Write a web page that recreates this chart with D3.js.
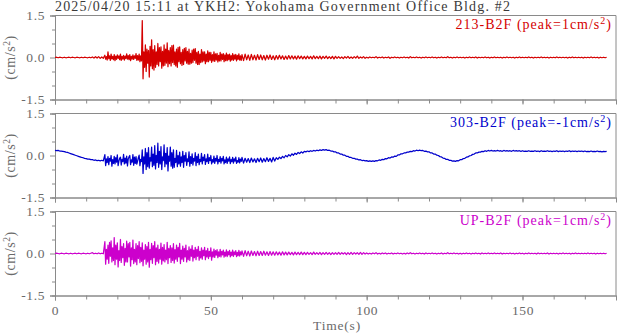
<!DOCTYPE html>
<html>
<head>
<meta charset="utf-8">
<script src="https://cdn.jsdelivr.net/npm/d3@7"></script>
<style>
  html, body { margin: 0; padding: 0; background: #fff; }
  svg { display: block; }
  text { font-family: "Liberation Serif", "Times New Roman", serif; }
</style>
</head>
<body>
<svg id="chart" width="618" height="334"></svg>
<script>
// ---------------- DATA ----------------
const title = "2025/04/20 15:11 at YKH2: Yokohama Government Office Bldg. #2";
const timeDomain = [0, 180];
const xTickLabels = [0, 50, 100, 150];
const xTickStep = 10;
const yMajorTicks = [-1.5, 0, 1.5];
const yMinorTicks = [-1, -0.5, 0.5, 1];
const channelNames = ["213-B2F", "303-B2F", "UP-B2F"];
const channelPeaks = ["1", "-1", "1"];
const valueUnit = 0.01;              // values below are in 0.01 cm/s^2

// each trace is stored in three pieces: pre-event, main shaking, coda
const segmentStart = [0, 16, 60];      // s
const segmentStep  = [0.5, 0.25, 0.5]; // s between samples

const trace213Pre = [
  0,1,-1,1,0,-1,1,-1,0,1,-1,1,0,-1,1,0,-1,1,-1,1,
  0,-1,1,-1,2,-2,3,-2,3,-3,2,-3
];
const trace213Main = [
  8,-6,3,-9,20,-4,6,-10,12,-5,4,-8,10,-11,5,-7,
  9,-3,6,-8,12,-10,4,-6,8,-9,5,-4,13,-6,7,-8,
  10,-11,4,-6,9,-7,6,-3,14,-10,7,-9,12,-15,6,-12,
  132,-76,20,-35,45,-50,30,-20,25,-70,40,-30,63,-40,28,-45,
  42,-35,20,-25,50,-30,35,-15,38,-38,22,-30,45,-28,30,-20,
  52,-33,25,-22,35,-30,42,-18,44,-25,20,-30,30,-35,36,-15,
  38,-22,18,-28,28,-25,33,-12,35,-20,22,-24,30,-24,15,-20,
  26,-18,30,-10,32,-20,18,-25,22,-25,12,-18,28,-16,20,-12,
  20,-22,12,-15,24,-15,18,-10,18,-17,10,-12,20,-14,13,-9,
  15,-16,8,-12,18,-12,12,-7,14,-15,9,-11,16,-11,10,-8,
  12,-13,7,-9,14,-10,9,-6,11,-12,8,-7,13,-9,6,-10
];
const trace213Tail = [
  10,-11,12,-8,9,-10,11,-8,8,-9,10,-7,9,-8,7,-9,8,-6,9,-7,
  6,-8,7,-6,8,-5,6,-7,5,-6,7,-5,6,-5,5,-6,6,-4,5,-5,
  4,-5,5,-4,4,-5,6,-4,4,-4,5,-5,4,-3,5,-4,3,-4,4,-5,
  4,-3,3,-3,2,-4,3,-2,4,-3,2,-3,3,-2,5,-3,2,-2,3,-3,
  1,-2,2,-1,1,-1,3,-2,1,-1,2,-2,1,-1,2,-3,1,-1,2,-1,
  1,-2,1,-1,2,-1,1,-2,3,-1,1,-1,2,-1,1,-2,1,-1,2,-1,
  1,-1,2,-1,1,-2,1,-1,2,-1,1,-1,3,-1,1,-2,1,-1,2,-1,
  1,-1,1,-2,1,-1,2,-1,1,-1,2,-2,1,-1,1,-1,2,-1,1,-2,
  1,-1,2,-1,1,-1,1,-2,1,-1,2,-1,1,-1,1,-2,1,-1,2,-1,
  1,-1,1,-1,2,-1,1,-2,1,-1,1,-1,2,-1,1,-1,1,-2,1,-1,
  1,-1,2,-1,1,-1,1,-1,1,-2,1,-1,2,-1,1,-1,1,-1,1,-2,
  1,-1,1,-1,2,-1,1,-1,1,-2,1,-1,1,-1,1
];

const trace303Pre = [
  18,17,18,16,16,15,14,12,11,9,7,5,3,1,-1,-3,-5,-7,-8,-10,
  -11,-13,-13,-15,-15,-17,-16,-18,-17,-19,-17,-19
];
const trace303Main = [
  3,-36,-12,-25,-4,-33,-10,-20,0,-38,-15,-28,-3,-30,-8,-24,
  2,-36,-20,-10,-6,-34,-14,-22,4,-30,-9,-27,-2,-37,-12,-5,
  0,-33,-16,-24,3,-35,-6,-28,-4,-31,-20,-8,1,-36,-14,-22,
  20,-64,-5,-30,25,-50,10,-40,28,-45,-8,-20,30,-40,5,-35,
  35,-48,0,-25,44,-42,15,-30,32,-50,-5,-18,38,-40,8,-30,
  28,-55,-2,-20,30,-38,10,-45,20,-42,-10,-25,18,-40,0,-30,
  12,-38,-5,-25,15,-42,0,-20,10,-35,-12,-22,13,-38,-4,-28,
  6,-34,-10,-20,10,-36,-3,-25,5,-33,-14,-22,8,-30,-6,-18,
  3,-32,-12,-22,5,-28,-8,-18,0,-30,-15,-24,-2,-28,-10,-20,
  0,-30,-14,-22,-4,-27,-10,-19,-3,-30,-16,-25,-6,-28,-12,-20,
  -5,-29,-15,-22,-7,-27,-12,-20,-6,-28,-18,-24,-8,-26,-13,-21
];
const trace303Tail = [
  -7,-27,-10,-24,-11,-25,-9,-23,-12,-25,-10,-22,-9,-24,-11,-22,-8,-21,-10,-23,
  -7,-20,-8,-14,-6,-11,-3,-8,0,-5,3,-2,6,1,8,4,11,7,13,9,
  15,13,16,14,17,15,18,16,19,17,20,18,21,19,21,18,19,16,16,13,
  13,9,9,5,5,1,1,-3,-3,-7,-7,-10,-10,-13,-13,-16,-15,-18,-17,-19,
  -18,-21,-19,-21,-19,-21,-18,-19,-16,-17,-14,-15,-11,-12,-8,-9,-5,-6,-2,-3,
  2,2,6,6,9,9,12,12,15,14,17,16,19,17,19,17,18,15,16,13,
  13,9,9,5,5,1,0,-4,-5,-9,-10,-14,-14,-17,-17,-20,-19,-21,-18,-19,
  -15,-15,-11,-10,-6,-5,-1,0,4,5,9,9,12,12,15,14,17,15,18,16,
  18,16,17,16,18,16,17,15,18,16,17,16,17,15,18,16,17,16,17,15,
  17,15,16,15,17,15,16,15,17,15,16,14,17,15,16,15,17,15,16,14,
  16,15,17,14,16,15,16,14,16,15,17,14,16,15,16,14,16,15,16,14,
  16,14,15,14,16,14,15,14,16,14,15,13,15,14,15
];

const traceUPPre = [
  0,1,0,-1,1,0,-1,1,0,-1,1,-1,0,1,-1,1,0,-1,1,0,
  -1,1,-1,1,3,-1,1,-1,2,-1,1,-1
];
const traceUPMain = [
  42,-38,15,-20,30,-35,40,-10,45,-30,20,-25,57,-40,30,-20,
  38,-48,10,-25,50,-32,25,-15,35,-42,18,-30,44,-30,35,-12,
  40,-45,20,-22,48,-36,15,-30,35,-40,28,-18,42,-33,22,-28,
  38,-44,12,-20,32,-38,25,-30,40,-49,15,-22,36,-35,28,-15,
  42,-40,20,-28,30,-34,15,-20,37,-38,22,-26,32,-30,12,-22,
  40,-36,18,-15,28,-32,20,-25,35,-34,14,-20,30,-28,22,-12,
  36,-36,12,-20,26,-28,18,-12,30,-30,10,-22,24,-25,16,-10,
  28,-27,12,-15,22,-22,15,-10,25,-24,8,-16,20,-20,12,-8,
  22,-22,10,-12,18,-18,8,-10,20,-24,6,-12,16,-14,10,-6,
  14,-15,6,-10,15,-12,8,-5,12,-13,5,-9,13,-11,7,-5,
  11,-12,5,-8,12,-10,6,-4,10,-11,4,-8,11,-9,6,-5
];
const traceUPTail = [
  9,-10,10,-8,8,-9,9,-7,7,-8,8,-7,7,-7,8,-6,6,-7,7,-6,
  6,-6,6,-5,5,-6,6,-5,5,-5,5,-4,4,-5,5,-4,4,-4,5,-4,
  4,-4,4,-3,3,-4,5,-3,3,-3,4,-4,3,-3,4,-3,3,-4,3,-3,
  3,-3,4,-3,3,-2,3,-4,3,-3,4,-3,3,-2,3,-3,4,-3,3,-2,
  2,-2,1,-2,2,-1,3,-2,1,-2,2,-1,2,-2,1,-1,2,-2,1,-1,
  2,-1,1,-2,1,-2,2,-1,3,-1,1,-2,1,-1,2,-1,1,-2,2,-1,
  1,-1,2,-1,1,-2,1,-1,2,-2,1,-1,3,-1,1,-1,2,-1,1,-2,
  1,-2,1,-1,2,-1,1,-2,1,-1,2,-1,1,-2,2,-1,1,-1,2,-1,
  1,-1,2,-1,1,-1,2,-2,1,-1,1,-1,2,-1,1,-2,1,-1,2,-1,
  1,-2,1,-1,2,-1,1,-1,1,-2,2,-1,1,-1,1,-1,2,-2,1,-1,
  1,-1,1,-2,1,-1,2,-1,1,-1,1,-2,1,-1,2,-1,1,-1,1,-1,
  1,-1,2,-1,1,-1,1,-2,1,-1,1,-1,1,-1,1
];

const traceSegments = [
  [trace213Pre, trace213Main, trace213Tail],
  [trace303Pre, trace303Main, trace303Tail],
  [traceUPPre, traceUPMain, traceUPTail]
];
const traceColors = ["#d40000", "#0000cc", "#cc00cc"];

// build (time, value) rows from the segments
const traceRows = traceSegments.map(segs =>
  segs.flatMap((vals, s) => vals.map((v, i) => ({
    t: segmentStart[s] + i * segmentStep[s],
    v: v * valueUnit
  })))
);

// ---------------- LAYOUT ----------------
const W = 618, H = 334;
const plotLeft = 55, plotRight = 616;
const panelTops = [15.5, 113.5, 211.5];
const panelHeight = 84;
const axisColor = "#8a8a8a";
const labelColor = "#6a6a6a";
const titleColor = "#3a3a3a";
const fontSize = 13.5;

const svg = d3.select("#chart");
svg.append("rect").attr("width", W).attr("height", H).attr("fill", "#fff");

const x = d3.scaleLinear().domain(timeDomain).range([plotLeft, plotRight]);
const xTicksAll = d3.range(timeDomain[0], timeDomain[1] + 0.001, xTickStep);

svg.append("text")
  .attr("x", plotLeft).attr("y", 10.5)
  .attr("font-size", 14).attr("fill", titleColor)
  .attr("textLength", 455).attr("lengthAdjust", "spacing")
  .text(title);

traceRows.forEach((rows, k) => {
  const top = panelTops[k];
  const y = d3.scaleLinear().domain([-1.5, 1.5]).range([top + panelHeight, top]);
  const g = svg.append("g");

  g.append("path")
    .attr("d", `M${plotLeft},${top}H${plotRight}V${top + panelHeight}`)
    .attr("fill", "none").attr("stroke", axisColor).attr("stroke-width", 1);

  const yMinor = g.append("g").attr("transform", `translate(${plotLeft},0)`)
    .call(d3.axisLeft(y).tickValues(yMinorTicks).tickSize(3).tickFormat(""));
  const yMajor = g.append("g").attr("transform", `translate(${plotLeft},0)`)
    .call(d3.axisLeft(y).tickValues(yMajorTicks).tickSize(5).tickPadding(5)
      .tickFormat(d => d.toFixed(1)));
  const xMinor = g.append("g").attr("transform", `translate(0,${top + panelHeight})`)
    .call(d3.axisBottom(x).tickValues(xTicksAll).tickSize(4).tickFormat(""));
  const xMajor = g.append("g").attr("transform", `translate(0,${top + panelHeight})`)
    .call(d3.axisBottom(x).tickValues(xTickLabels).tickSize(5).tickPadding(5)
      .tickFormat(k === traceRows.length - 1 ? d3.format("d") : () => ""));

  [yMinor, yMajor, xMinor, xMajor].forEach(a => {
    a.selectAll("path, line").attr("stroke", axisColor);
    a.selectAll("text").attr("fill", labelColor)
      .attr("font-size", fontSize)
      .attr("font-family", '"Liberation Serif", serif')
      .attr("letter-spacing", "0.6px");
  });

  const yt = g.append("text")
    .attr("transform", `translate(15,${top + panelHeight / 2}) rotate(-90)`)
    .attr("text-anchor", "middle")
    .attr("font-size", 14).attr("fill", labelColor)
    .attr("letter-spacing", "0.6px");
  yt.append("tspan").text("(cm/s");
  yt.append("tspan").attr("dy", -5).attr("font-size", 9.5).text("2");
  yt.append("tspan").attr("dy", 5).text(")");

  const line = d3.line()
    .x(d => x(d.t))
    .y(d => y(d.v));
  g.append("path")
    .datum(rows)
    .attr("d", line)
    .attr("fill", "none")
    .attr("stroke", traceColors[k])
    .attr("stroke-width", 1.25)
    .attr("stroke-linejoin", "round");

  const lt = g.append("text")
    .attr("x", 612).attr("y", top + 13)
    .attr("text-anchor", "end")
    .attr("font-size", 14).attr("fill", traceColors[k])
    .attr("letter-spacing", "1px");
  lt.append("tspan").text(`${channelNames[k]} (peak=${channelPeaks[k]}cm/s`);
  lt.append("tspan").attr("dy", -5).attr("font-size", 10).text("2");
  lt.append("tspan").attr("dy", 5).text(")");
});

svg.append("text")
  .attr("x", 337).attr("y", 330)
  .attr("text-anchor", "middle")
  .attr("font-size", fontSize).attr("fill", labelColor)
  .attr("letter-spacing", "0.8px")
  .text("Time(s)");
</script>
</body>
</html>
